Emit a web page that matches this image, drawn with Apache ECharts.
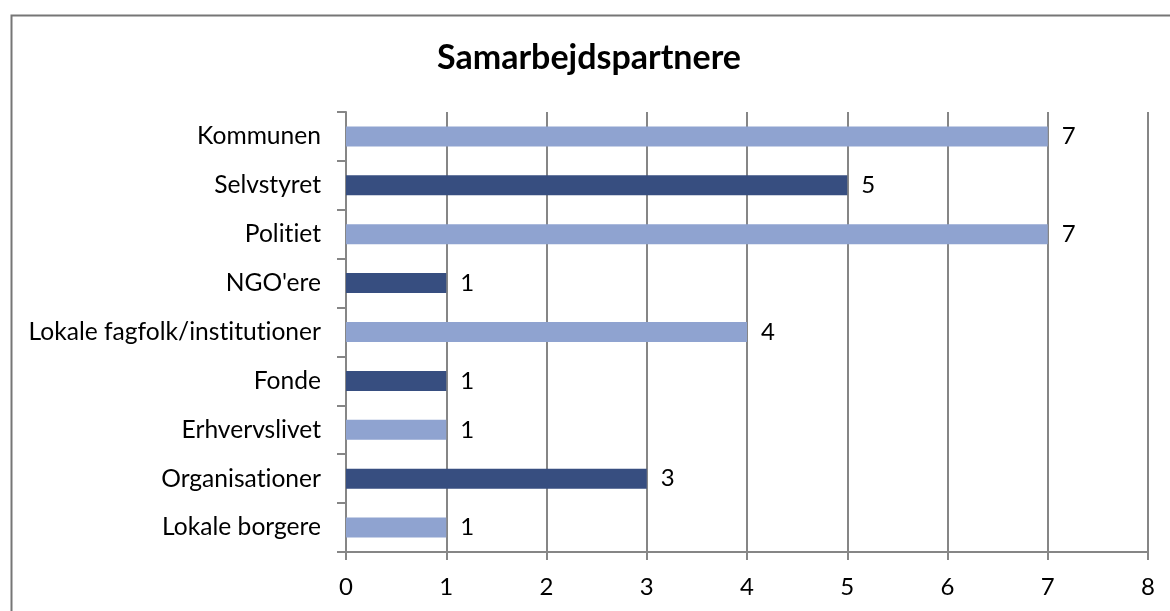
<!DOCTYPE html>
<html lang="da">
<head>
    <meta charset="UTF-8">
    <title>Samarbejdspartnere</title>
    <script src="https://cdn.jsdelivr.net/npm/echarts@6.0.0/dist/echarts.min.js"></script>
    <style>
        html, body { margin: 0; padding: 0; background: #ffffff; }
        #chart { width: 1170px; height: 611px; }
    </style>
</head>
<body>
    <div id="chart"></div>
    <script>
        // data, top to bottom as shown
        const categories = ['Kommunen', 'Selvstyret', 'Politiet', "NGO'ere", 'Lokale fagfolk/institutioner', 'Fonde', 'Erhvervslivet', 'Organisationer', 'Lokale borgere'];
        const values = [7, 5, 7, 1, 4, 1, 1, 3, 1];
        const barColors = ['#8FA3D0', '#374E80'];

        const font = 'Lato, "Open Sans", sans-serif';
        const gridColor = '#868686';

        // Lato joins "ti" into a ligature, the original does not
        const noLig = s => s.replace(/t(?=i)/g, 't\u200C');

        const chart = echarts.init(document.getElementById('chart'));

        chart.setOption({
            backgroundColor: '#ffffff',
            animation: false,
            title: {
                text: 'Samarbejdspartnere',
                left: 432,
                top: 36,
                textStyle: { fontFamily: font, fontSize: 34, fontWeight: 'bold', color: '#000' }
            },
            graphic: [{
                type: 'rect',
                left: 9, top: 13,
                shape: { width: 1200, height: 700 },
                style: { fill: 'none', stroke: '#767676', lineWidth: 2 },
                silent: true
            }],
            grid: { left: 346, top: 112, width: 802, height: 440 },
            xAxis: {
                type: 'value',
                min: 0, max: 8, interval: 1,
                axisLine: { show: true, lineStyle: { color: gridColor, width: 2 } },
                axisTick: { show: true, length: 8, lineStyle: { color: gridColor, width: 2 } },
                axisLabel: { fontFamily: font, fontSize: 24, color: '#000', margin: 23 },
                splitLine: { show: true, lineStyle: { color: gridColor, width: 2 } }
            },
            yAxis: {
                type: 'category',
                data: categories,
                inverse: true,
                axisLine: { show: true, lineStyle: { color: gridColor, width: 2 } },
                axisTick: { show: true, length: 9, lineStyle: { color: gridColor, width: 2 } },
                axisLabel: { fontFamily: font, fontSize: 24.6, color: '#000', margin: 25, formatter: noLig },
                splitLine: { show: false }
            },
            series: [{
                type: 'bar',
                data: values.map((v, i) => ({ value: v, itemStyle: { color: barColors[i % 2] } })),
                barWidth: 20,
                label: {
                    show: true,
                    position: 'right',
                    distance: 14,
                    fontFamily: font,
                    fontSize: 24,
                    color: '#000'
                }
            }]
        });
    </script>
</body>
</html>
